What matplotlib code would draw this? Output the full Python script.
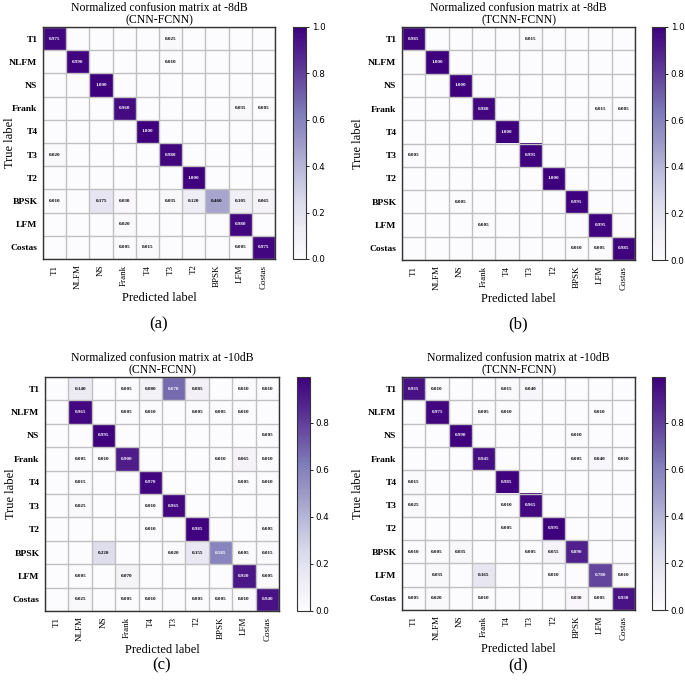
import numpy as np
import matplotlib
matplotlib.use("Agg")
import matplotlib.pyplot as plt

plt.rcParams['font.family'] = ['Liberation Serif', 'DejaVu Serif']

classes = ['T1', 'NLFM', 'NS', 'Frank', 'T4', 'T3', 'T2', 'BPSK', 'LFM', 'Costas']

# rows = true label, columns = predicted label
cm_a = [
    [0.975, 0, 0, 0, 0, 0.025, 0, 0, 0, 0],
    [0, 0.990, 0, 0, 0, 0.010, 0, 0, 0, 0],
    [0, 0, 1.000, 0, 0, 0, 0, 0, 0, 0],
    [0, 0, 0, 0.960, 0, 0, 0, 0, 0.035, 0.005],
    [0, 0, 0, 0, 1.000, 0, 0, 0, 0, 0],
    [0.020, 0, 0, 0, 0, 0.980, 0, 0, 0, 0],
    [0, 0, 0, 0, 0, 0, 1.000, 0, 0, 0],
    [0.010, 0, 0.175, 0.030, 0, 0.035, 0.120, 0.460, 0.105, 0.065],
    [0, 0, 0, 0.020, 0, 0, 0, 0, 0.980, 0],
    [0, 0, 0, 0.005, 0.015, 0, 0, 0, 0.005, 0.975],
]

cm_b = [
    [0.985, 0, 0, 0, 0, 0.015, 0, 0, 0, 0],
    [0, 1.000, 0, 0, 0, 0, 0, 0, 0, 0],
    [0, 0, 1.000, 0, 0, 0, 0, 0, 0, 0],
    [0, 0, 0, 0.980, 0, 0, 0, 0, 0.015, 0.005],
    [0, 0, 0, 0, 1.000, 0, 0, 0, 0, 0],
    [0.005, 0, 0, 0, 0, 0.995, 0, 0, 0, 0],
    [0, 0, 0, 0, 0, 0, 1.000, 0, 0, 0],
    [0, 0, 0.005, 0, 0, 0, 0, 0.995, 0, 0],
    [0, 0, 0, 0.005, 0, 0, 0, 0, 0.995, 0],
    [0, 0, 0, 0, 0, 0, 0, 0.010, 0.005, 0.985],
]

cm_c = [
    [0, 0.140, 0, 0.005, 0.080, 0.670, 0.085, 0, 0.010, 0.010],
    [0, 0.965, 0, 0.005, 0.010, 0, 0.005, 0.005, 0.010, 0],
    [0, 0, 0.995, 0, 0, 0, 0, 0, 0, 0.005],
    [0, 0.005, 0.010, 0.900, 0, 0, 0, 0.010, 0.065, 0.010],
    [0, 0.015, 0, 0, 0.970, 0, 0, 0, 0.005, 0.010],
    [0, 0.025, 0, 0, 0.010, 0.965, 0, 0, 0, 0],
    [0, 0, 0, 0, 0.010, 0, 0.985, 0, 0, 0.005],
    [0, 0, 0.220, 0, 0, 0.020, 0.155, 0.585, 0.005, 0.015],
    [0, 0.005, 0, 0.070, 0, 0, 0, 0, 0.920, 0.005],
    [0, 0.025, 0, 0.005, 0.010, 0, 0.005, 0.005, 0.010, 0.940],
]

cm_d = [
    [0.935, 0.010, 0, 0, 0.015, 0.040, 0, 0, 0, 0],
    [0, 0.975, 0, 0.005, 0.010, 0, 0, 0, 0.010, 0],
    [0, 0, 0.990, 0, 0, 0, 0, 0.010, 0, 0],
    [0, 0, 0, 0.945, 0, 0, 0, 0.005, 0.040, 0.010],
    [0.015, 0, 0, 0, 0.985, 0, 0, 0, 0, 0],
    [0.025, 0, 0, 0, 0.010, 0.965, 0, 0, 0, 0],
    [0, 0, 0, 0, 0.005, 0, 0.995, 0, 0, 0],
    [0.010, 0.005, 0.035, 0, 0, 0.005, 0.055, 0.890, 0, 0],
    [0, 0.035, 0, 0.165, 0, 0, 0.010, 0, 0.780, 0.010],
    [0.005, 0.020, 0, 0.010, 0, 0, 0, 0.030, 0.005, 0.930],
]

titles = ['Normalized confusion matrix at -8dB\n(CNN-FCNN)',
          'Normalized confusion matrix at -8dB\n(TCNN-FCNN)',
          'Normalized confusion matrix at -10dB\n(CNN-FCNN)',
          'Normalized confusion matrix at -10dB\n(TCNN-FCNN)']
captions = ['(a)', '(b)', '(c)', '(d)']

W, H = 685, 683
fig = plt.figure(figsize=(W / 100, H / 100), dpi=100)

# pixel boxes (left, top, size, colorbar left, ylabel right edge) for each matrix
boxes = [(43, 27, 232, 293, 16), (402, 27, 233, 652, 364),
         (45, 377, 234, 297, 17), (402, 377, 233, 652, 364)]
cap_y = [324, 324, 665, 665]


def draw(cm, title, box, cap, cy):
    cm = np.array(cm)
    l, t, s, cbx, ylx = box
    ax = fig.add_axes([l / W, (H - t - s) / H, s / W, s / H])
    cax = fig.add_axes([cbx / W, (H - t - s) / H, 13 / W, s / H])
    im = ax.imshow(cm, cmap='Purples', vmin=0, vmax=cm.max(), aspect='auto')
    cb = fig.colorbar(im, cax=cax)
    cb.outline.set_linewidth(0.8)
    cb.outline.set_edgecolor('#333333')
    cax.tick_params(labelsize=6.3, length=2.5, width=0.6, pad=1.5)
    cb.set_ticks([v for v in [0, 0.2, 0.4, 0.6, 0.8, 1.0] if v <= cm.max() + 1e-9])
    for lab in cax.get_yticklabels():
        lab.set_family('DejaVu Sans')

    ax.set_xticks(range(len(classes)))
    ax.set_yticks(range(len(classes)))
    ax.set_xticklabels(classes, rotation=90, fontsize=6.5)
    ax.set_yticklabels(classes, fontsize=6.8, fontweight='bold')
    ax.set_xticks(np.arange(-0.5, 10, 1), minor=True)
    ax.set_yticks(np.arange(-0.5, 10, 1), minor=True)
    ax.grid(which='minor', color='#c0c0c0', linewidth=1)
    ax.grid(which='major', visible=False)
    ax.tick_params(which='both', length=0)
    ax.tick_params(axis='x', pad=4)
    ax.tick_params(axis='y', pad=4)
    for sp in ax.spines.values():
        sp.set_linewidth(1.0)
        sp.set_edgecolor('#333333')

    thresh = cm.max() / 2.
    for i in range(cm.shape[0]):
        for j in range(cm.shape[1]):
            if cm[i, j] > 0:
                ax.text(j, i, format(cm[i, j], '.3f'), ha='center', va='center',
                        fontsize=3.6, fontweight='bold',
                        color='white' if cm[i, j] > thresh else 'black')

    ax.set_title(title, fontsize=8.5, linespacing=0.95, pad=3)
    ax.set_xlabel('Predicted label', fontsize=9, labelpad=2)
    ax.set_ylabel('True label', fontsize=9)
    ax.yaxis.set_label_coords((ylx - l) / s, 0.5)
    fig.text((l + s / 2) / W, 1 - cy / H, cap, ha='center', va='center', fontsize=12)


for cm, title, box, cap, cy in zip([cm_a, cm_b, cm_c, cm_d], titles, boxes, captions, cap_y):
    draw(cm, title, box, cap, cy)

fig.savefig('out.png', dpi=100)
